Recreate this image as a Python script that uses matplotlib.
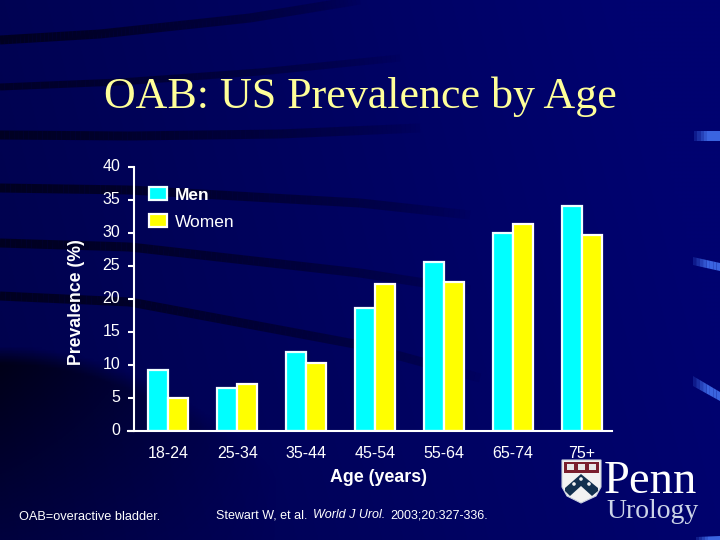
import numpy as np
import matplotlib
matplotlib.use("Agg")
import matplotlib.pyplot as plt
from matplotlib.patches import Polygon, Rectangle, Circle
from matplotlib.transforms import ScaledTranslation

ages = ["18-24", "25-34", "35-44", "45-54", "55-64", "65-74", "75+"]
men = [9.2, 6.6, 12.0, 18.7, 25.6, 30.0, 34.1]
women = [5.0, 7.2, 10.3, 22.3, 22.6, 31.4, 29.7]
yticks = [0, 5, 10, 15, 20, 25, 30, 35, 40]

W, H = 720, 540
fig = plt.figure(figsize=(7.2, 5.4), dpi=100)

# background in pixel coordinates
bg = fig.add_axes([0, 0, 1, 1], zorder=0)
bg.set_xlim(0, W)
bg.set_ylim(H, 0)
bg.axis("off")

xx, yy = np.meshgrid(np.linspace(0, 1, 180), np.linspace(0, 1, 135))
shade = np.clip(0.74 + 0.30 * xx - 0.06 * yy, 0, 1)
grad = np.zeros((135, 180, 3))
grad[..., 2] = 112 / 255 * shade
grad[..., 1] = 2 / 255
bg.imshow(grad, extent=[0, W, H, 0], aspect="auto", zorder=0, interpolation="bilinear")


def band(px, py, width=9, strength=0.9):
    # dark swoosh fading out to the right
    xs = np.linspace(px[0], px[-1], 90)
    ys = np.interp(xs, px, py)
    for i in range(len(xs) - 1):
        a = strength * (1 - i / (len(xs) - 1)) ** 0.6
        bg.plot(xs[i:i + 2], ys[i:i + 2], color="#00001e", lw=width * 0.72, alpha=a,
                solid_capstyle="butt", zorder=1)


band([0, 100, 250, 360], [40, 34, 18, 0], 9, 0.95)
band([0, 120, 260, 400], [87, 82, 72, 58], 7, 0.8)
band([0, 130, 280, 420], [135, 136, 134, 128], 9, 0.9)
band([0, 130, 360, 470], [188, 190, 203, 215], 9, 0.95)
band([0, 130, 360, 470], [243, 247, 273, 290], 9, 0.95)
band([0, 130, 360, 480], [296, 302, 345, 378], 9, 0.95)

# dark wedge lower left
wx, wy = np.meshgrid(np.linspace(0, 300, 100), np.linspace(345, 540, 70))
edge = 345 + 0.0016 * wx ** 2
wedge = np.zeros((70, 100, 4))
wedge[..., 2] = 0.08
wedge[..., 3] = np.clip((wy - edge) / 18, 0, 1) * np.clip(1 - wx / 280, 0, 1) * (1 - (wy - 345) / 260)
bg.imshow(wedge, extent=[0, 300, 540, 345], aspect="auto", zorder=1)
bg.set_xlim(0, W)
bg.set_ylim(H, 0)

# blue marks on the right edge, soft on their left end
for x0, top0, bot0, top1, bot1 in ((694, 131, 141, 131, 141),
                                   (693, 257, 265, 263, 271),
                                   (693, 376, 386, 392, 401),
                                   (696, 537, 540, 536, 540)):
    cuts = np.linspace(x0, 720, 9)
    for i in range(8):
        f0, f1 = (cuts[i] - x0) / (720 - x0), (cuts[i + 1] - x0) / (720 - x0)
        pts = [(cuts[i], top0 + (top1 - top0) * f0), (cuts[i + 1], top0 + (top1 - top0) * f1),
               (cuts[i + 1], bot0 + (bot1 - bot0) * f1), (cuts[i], bot0 + (bot1 - bot0) * f0)]
        bg.add_patch(Polygon(pts, closed=True, color="#3a64e0", lw=0, alpha=min(1, 0.25 + i * 0.2), zorder=2))

bg.text(360, 97, "OAB: US Prevalence by Age", family="Liberation Serif", fontsize=31.7,
        color="#ffff99", ha="center", va="center")

# chart
ax = fig.add_axes([134 / W, 1 - 431 / H, (616 - 134) / W, (431 - 167.5) / H], zorder=2)
ax.patch.set_alpha(0)
x = np.arange(len(ages))
bw = 0.29
b1 = ax.bar(x - bw / 2, men, bw, color="#00ffff", edgecolor="#f0ffff", linewidth=1.6, label="Men")
b2 = ax.bar(x + bw / 2, women, bw, color="#ffff00", edgecolor="white", linewidth=1.6, label="Women")
ax.set_xlim(-0.5, 6.5)
ax.set_ylim(0, 40)
ax.set_xticks(x)
ax.set_xticklabels(ages)
ax.set_yticks(yticks)
for s in ("top", "right"):
    ax.spines[s].set_visible(False)
for s in ("left", "bottom"):
    ax.spines[s].set_color("white")
    ax.spines[s].set_linewidth(1.5)
ax.spines["bottom"].set_bounds(-0.588, 6.437)
ax.tick_params(axis="x", length=0, pad=11, labelcolor="white", labelsize=11.5)
ax.tick_params(axis="y", length=4, width=1.5, color="white", pad=6, labelcolor="white", labelsize=11.5)
for t in ax.get_xticklabels() + ax.get_yticklabels():
    t.set_family("Liberation Sans")
up = ScaledTranslation(0, 2 / 100, fig.dpi_scale_trans)
for t in ax.get_yticklabels():
    t.set_transform(t.get_transform() + up)
ax.set_ylabel("Prevalence (%)", color="white", family="Liberation Sans", fontweight="bold",
              fontsize=12.7)
ax.yaxis.set_label_coords((85 - 134) / (616 - 134), (431 - 302) / (431 - 167.5))

leg = ax.legend(loc="upper left", bbox_to_anchor=(15 / 482, (431 - 187) / 263.5), frameon=False,
                fontsize=12.5, handlelength=1.05, handleheight=0.8, handletextpad=0.45,
                labelspacing=0.66, borderpad=0, borderaxespad=0)
for t, wt in zip(leg.get_texts(), ("bold", "normal")):
    t.set_color("white")
    t.set_family("Liberation Sans")
    t.set_fontweight(wt)

bg.text(378, 477, "Age (years)", color="white", family="Liberation Sans", fontweight="bold",
        fontsize=12.8, ha="center", va="center")
bg.text(19, 517, "OAB=overactive bladder.", color="white", family="Liberation Sans",
        fontsize=9.2, ha="left", va="center")

# citation in three pieces on one baseline, journal is italic
renderer = fig.canvas.get_renderer()
cx = 216
for piece, st in (("Stewart W, et al. ", "normal"), ("World J Urol. ", "italic"), ("2003;20:327-336.", "normal")):
    c = bg.text(cx, 518, piece, color="white", family="Liberation Sans", style=st,
                fontsize=9, ha="left", va="baseline")
    cx += c.get_window_extent(renderer).width + (2 if piece.endswith(" ") else 0)

# Penn logo
shield = [(562, 460), (601, 460), (601, 487), (596, 496), (581, 503), (567, 496), (562, 487)]
bg.add_patch(Polygon(shield, closed=True, facecolor="#f2f2f2", edgecolor="#c8d0e0", lw=0.8, zorder=3))
bg.add_patch(Rectangle((564, 462), 35, 11, facecolor="#7a1f2e", lw=0, zorder=4))
for bx in (567, 578, 589):
    bg.add_patch(Rectangle((bx, 464), 7, 6, facecolor="#e8e8e8", lw=0, zorder=5))
bg.add_patch(Polygon([(565, 488), (581, 474), (598, 488), (598, 491), (592, 496), (581, 486), (570, 496), (565, 491)],
                     closed=True, facecolor="#12304f", lw=0, zorder=4))
for dx, dy in ((574, 484), (581, 479), (589, 484)):
    bg.add_patch(Circle((dx, dy), 1.8, facecolor="#f2f2f2", lw=0, zorder=5))
bg.text(604, 493, "Penn", family="Liberation Serif", fontsize=33.5, color="white",
        ha="left", va="baseline", zorder=5)
bg.text(606, 518, "Urology", family="Liberation Serif", fontsize=20, color="#ccd4e8",
        ha="left", va="baseline", zorder=5)

fig.savefig("out.png", dpi=100)
